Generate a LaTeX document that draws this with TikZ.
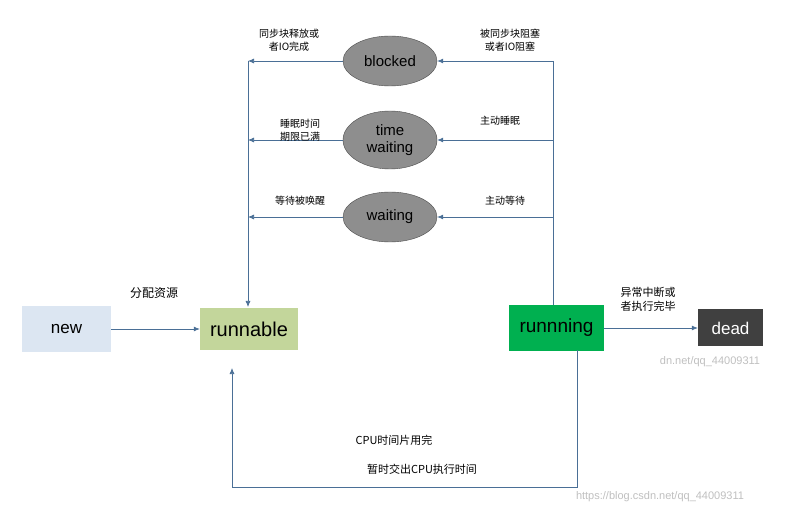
\documentclass[tikz,border=0pt]{standalone}
\usepackage{fontspec}
\setmainfont{Liberation Sans}
\newfontfamily\cjk{Noto Sans CJK SC}
\usetikzlibrary{arrows.meta,shapes.geometric}
\definecolor{ln}{HTML}{4A6F96}
\definecolor{ell}{HTML}{8E8E8E}
\definecolor{newc}{HTML}{DCE6F2}
\tikzset{
 st/.style={ellipse,draw=black!70,fill=ell,minimum width=94pt,inner sep=0pt,align=center,font=\fontsize{15}{17}\selectfont},
 bx/.style={minimum height=44pt,inner sep=0pt,font=\fontsize{17}{18}\selectfont},
 lab/.style={font=\cjk\fontsize{10}{13}\selectfont,align=center},
 ar/.style={draw=ln,line width=0.7pt,-{Latex[length=6pt,width=5pt]}},
 wm/.style={text=black!25,font=\fontsize{11}{12}\selectfont}
}
\begin{document}
\begin{tikzpicture}[x=1pt,y=-1pt]
\useasboundingbox (0,0) rectangle (800,518);
\node[st,minimum height=50pt] (b) at (390,61) {blocked};
\node[st,minimum height=58pt] (t) at (390,140) {time\\waiting};
\node[st,minimum height=50pt] (w) at (390,217) {waiting};
\node[bx,fill=newc,minimum width=89pt,minimum height=46pt] (new) at (66.5,329) {new};
\node[bx,fill={rgb,255:red,195;green,214;blue,155},minimum width=98pt,minimum height=42pt,font=\fontsize{20}{20}\selectfont] (run) at (249,329) {runnable};
\node[bx,fill={rgb,255:red,0;green,176;blue,80},minimum width=95pt,minimum height=45pt,font=\fontsize{19}{20}\selectfont] (ing) at (556.5,328) {runnning};
\node[bx,fill=black!75,text=white,minimum width=65pt,minimum height=37pt] (dead) at (730.5,328) {dead};
\coordinate (rb) at (553,61);
\coordinate (rt) at (553,140);
\coordinate (rw) at (553,217);
\coordinate (lb) at (248,61);
\coordinate (lt) at (248,140);
\coordinate (lw) at (248,217);
\draw[draw=ln,line width=0.7pt] (rb) -- (553,305);
\draw[ar] (rb) -- (b.east);
\draw[ar] (rt) -- (t.east);
\draw[ar] (rw) -- (w.east);
\draw[ar] (b.west) -- (lb);
\draw[ar] (t.west) -- (lt);
\draw[ar] (w.west) -- (lw);
\draw[ar] (lb) -- (248,307);
\draw[ar] (new.east) -- (run.west);
\draw[ar] (ing.east) -- (dead.west);
\coordinate (c1) at (577,487);
\coordinate (c2) at (232,487);
\draw[ar] (577,350) -- (c1) -- (c2) -- (232,368);
\node[lab] (l1) at (289,40) {同步块释放或\\者IO完成};
\node[lab] (l2) at (510,40) {被同步块阻塞\\或者IO阻塞};
\node[lab] (l3) at (300,130) {睡眠时间\\期限已满};
\node[lab] (l4) at (500,121) {主动睡眠};
\node[lab] (l5) at (300,201) {等待被唤醒};
\node[lab] (l6) at (505,201) {主动等待};
\node[lab,font=\cjk\fontsize{12}{13}\selectfont] (l7) at (154,293) {分配资源};
\node[lab,font=\cjk\fontsize{11}{14}\selectfont] (l8) at (648,299) {异常中断或\\者执行完毕};
\node[lab,font=\cjk\fontsize{11}{13}\selectfont] (l9) at (394,440) {CPU时间片用完};
\node[lab,font=\cjk\fontsize{11}{13}\selectfont] (l10) at (422,469) {暂时交出CPU执行时间};
\node[wm] (w1) at (710,362) {dn.net/qq\_44009311};
\node[wm] (w2) at (660,497) {https://blog.csdn.net/qq\_44009311};
\end{tikzpicture}
\end{document}
